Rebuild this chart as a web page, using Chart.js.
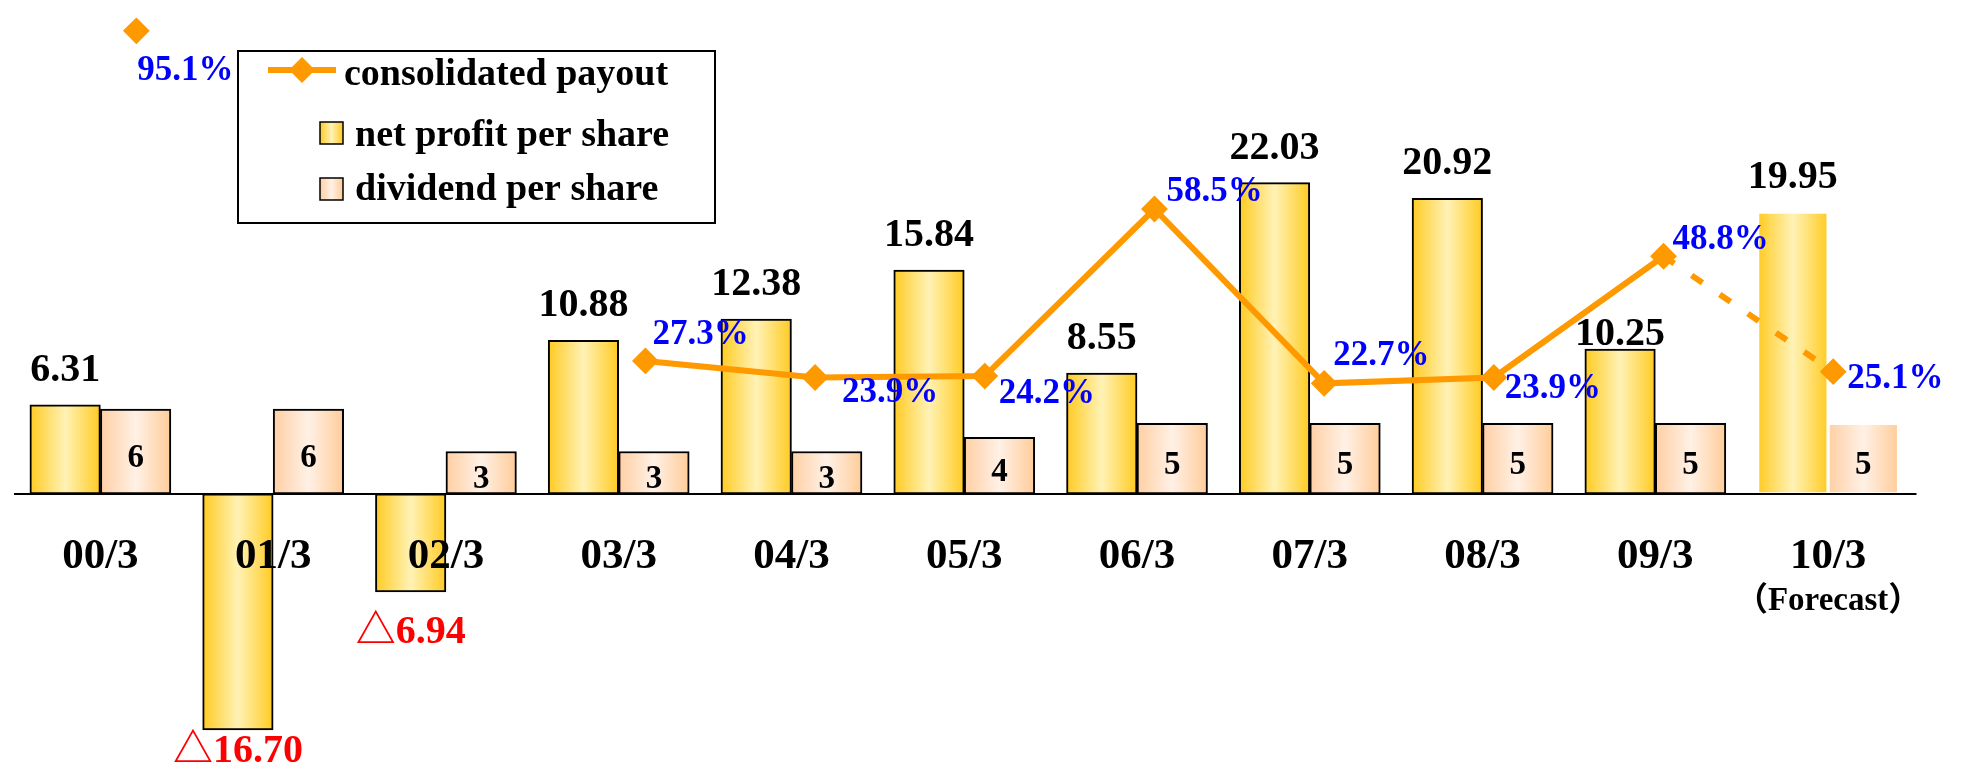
<!DOCTYPE html>
<html>
<head>
<meta charset="utf-8">
<script src="https://cdn.jsdelivr.net/npm/chart.js@4.4.1/dist/chart.umd.min.js"></script>
<style>
  html, body { margin: 0; padding: 0; background: #fff; }
  canvas { display: block; }
</style>
</head>
<body>
<canvas id="chart" width="1966" height="783"></canvas>
<script>
// data
const categories = ["00/3", "01/3", "02/3", "03/3", "04/3", "05/3", "06/3", "07/3", "08/3", "09/3", "10/3"];
const netProfit = [6.31, -16.70, -6.94, 10.88, 12.38, 15.84, 8.55, 22.03, 20.92, 10.25, 19.95];
const dividend = [6, 6, 3, 3, 3, 4, 5, 5, 5, 5, 5];
const payout = [95.1, null, null, 27.3, 23.9, 24.2, 58.5, 22.7, 23.9, 48.8, 25.1];
const forecastIndex = 10;
const forecastNote = "（Forecast）";

const SERIF = '"Liberation Serif", "Noto Sans CJK JP", "DejaVu Serif", serif';
const ORANGE = "#FF9900";
const BAR_W = 70.5;
const netStops = ["#FFCB22", "#FFF2B6", "#FFCB22"];
const divStops = ["#FFCFA3", "#FFF1E6", "#FFCC99"];

function gradFor(chart, x0, w, stops) {
  const g = chart.ctx.createLinearGradient(x0, 0, x0 + w, 0);
  g.addColorStop(0, stops[0]);
  g.addColorStop(0.5, stops[1]);
  g.addColorStop(1, stops[2]);
  return g;
}

// horizontal gradient on each bar, computed from the category scale
function barFill(stops, side) {
  return ctx => {
    const chart = ctx.chart;
    if (!chart.chartArea || ctx.type !== "data") return stops[1];
    const cx = chart.scales.x.getPixelForValue(ctx.dataIndex);
    const x0 = side < 0 ? cx - BAR_W : cx;
    return gradFor(chart, x0, BAR_W, stops);
  };
}

// put the two bars side by side around the category centre
const pairPlugin = {
  id: "pair",
  afterDatasetsUpdate(chart) {
    chart.getDatasetMeta(0).data.forEach(b => { b.x -= BAR_W / 2; });
    chart.getDatasetMeta(1).data.forEach(b => { b.x += BAR_W / 2; });
  }
};

// hand placed percentage labels (offset from the marker)
const pctDx = [1, 0, 0, 7, 27, 14, 12, 9, 11, 9, 14];
const pctDy = [37, 0, 0, -29, 12, 15, -20, -30, 8, -19, 4];

const labelPlugin = {
  id: "labels",
  afterDatasetsDraw(chart) {
    const { ctx, chartArea: area, scales } = chart;
    const y0 = scales.y.getPixelForValue(0);
    ctx.save();

    // zero line
    ctx.strokeStyle = "#000";
    ctx.lineWidth = 2;
    ctx.beginPath();
    ctx.moveTo(area.left, y0);
    ctx.lineTo(area.right + 2, y0);
    ctx.stroke();

    ctx.textAlign = "center";
    ctx.textBaseline = "alphabetic";

    // category labels just under the zero line
    ctx.fillStyle = "#000";
    categories.forEach((c, i) => {
      const x = scales.x.getPixelForValue(i);
      ctx.font = "bold 43px " + SERIF;
      ctx.fillText(c, x, y0 + 74);
      if (i === forecastIndex) {
        ctx.font = "bold 33px " + SERIF;
        ctx.fillText(forecastNote, x, y0 + 116);
      }
    });

    // net profit values
    const netMeta = chart.getDatasetMeta(0);
    ctx.font = "bold 40px " + SERIF;
    netProfit.forEach((v, i) => {
      const bar = netMeta.data[i];
      if (v >= 0) {
        ctx.fillStyle = "#000";
        const gap = i === 9 ? 4 : 24;
        ctx.fillText(v.toFixed(2), bar.x, bar.y - gap);
      } else {
        ctx.fillStyle = "#FF0000";
        const y = Math.min(bar.y + 51, area.bottom - 7);
        ctx.fillText("△" + Math.abs(v).toFixed(2), bar.x, y);
      }
    });

    // dividend values inside the bars
    const divMeta = chart.getDatasetMeta(1);
    ctx.fillStyle = "#000";
    ctx.font = "bold 33px " + SERIF;
    dividend.forEach((v, i) => {
      const bar = divMeta.data[i];
      ctx.fillText(String(v), bar.x, (bar.y + bar.base) / 2 + 15);
    });

    // payout percentages
    const lineMeta = chart.getDatasetMeta(2);
    ctx.fillStyle = "#0000FF";
    ctx.textAlign = "left";
    ctx.font = "bold 35px " + SERIF;
    payout.forEach((v, i) => {
      if (v === null) return;
      const pt = lineMeta.data[i];
      ctx.fillText(v.toFixed(1) + "%", pt.x + pctDx[i], pt.y + pctDy[i] + 12);
    });

    // legend box
    ctx.strokeStyle = "#000";
    ctx.lineWidth = 2;
    ctx.strokeRect(238, 51, 477, 172);
    const ds = chart.data.datasets;

    ctx.strokeStyle = ORANGE;
    ctx.lineWidth = 6;
    ctx.beginPath();
    ctx.moveTo(268, 70);
    ctx.lineTo(336, 70);
    ctx.stroke();
    ctx.fillStyle = ORANGE;
    ctx.beginPath();
    ctx.moveTo(302, 57); ctx.lineTo(315, 70); ctx.lineTo(302, 83); ctx.lineTo(289, 70);
    ctx.closePath();
    ctx.fill();

    ctx.lineWidth = 1.5;
    ctx.strokeStyle = "#000";
    ctx.fillStyle = gradFor(chart, 320, 23, netStops);
    ctx.fillRect(320, 122, 23, 22);
    ctx.strokeRect(320, 122, 23, 22);
    ctx.fillStyle = gradFor(chart, 320, 23, divStops);
    ctx.fillRect(320, 178, 23, 22);
    ctx.strokeRect(320, 178, 23, 22);

    ctx.fillStyle = "#000";
    ctx.font = "bold 38px " + SERIF;
    ctx.fillText(ds[2].label, 344, 85);
    ctx.fillText(ds[0].label, 355, 146);
    ctx.fillText(ds[1].label, 355, 200);

    ctx.restore();
  }
};

const noBorderForecast = c => (c.dataIndex === forecastIndex ? "rgba(0,0,0,0)" : "#000");

new Chart(document.getElementById("chart"), {
  data: {
    labels: categories,
    datasets: [
      {
        type: "bar",
        label: "net profit per share",
        data: netProfit,
        backgroundColor: barFill(netStops, -1),
        borderColor: noBorderForecast,
        borderWidth: 2,
        borderSkipped: false,
        barThickness: BAR_W,
        grouped: false,
        yAxisID: "y",
        order: 2
      },
      {
        type: "bar",
        label: "dividend per share",
        data: dividend,
        backgroundColor: barFill(divStops, 1),
        borderColor: noBorderForecast,
        borderWidth: 2,
        borderSkipped: false,
        barThickness: BAR_W,
        grouped: false,
        yAxisID: "y",
        order: 2
      },
      {
        type: "line",
        label: "consolidated payout",
        data: payout.map((v, i) => ({ x: i, y: v })),
        xAxisID: "xl",
        yAxisID: "yp",
        borderColor: ORANGE,
        backgroundColor: ORANGE,
        borderWidth: 6,
        pointStyle: "rectRot",
        pointRadius: 12,
        pointBorderWidth: 2,
        pointBackgroundColor: ORANGE,
        pointBorderColor: ORANGE,
        spanGaps: false,
        tension: 0,
        segment: {
          borderDash: c => (c.p1DataIndex === forecastIndex ? [13, 21] : undefined)
        },
        order: 0
      }
    ]
  },
  options: {
    responsive: false,
    devicePixelRatio: 1,
    animation: false,
    layout: { padding: { left: 11.5, right: 51.5, top: 0, bottom: 0 } },
    plugins: {
      legend: { display: false },
      tooltip: { enabled: false }
    },
    scales: {
      x: { type: "category", display: false, offset: true },
      xl: { type: "linear", display: false, offset: false, min: -0.721, max: 10.479 },
      y: { display: false, min: -19.47, max: 33.97 },
      yp: { display: false, min: -56.5, max: 98.55 }
    }
  },
  plugins: [pairPlugin, labelPlugin]
});
</script>
</body>
</html>
